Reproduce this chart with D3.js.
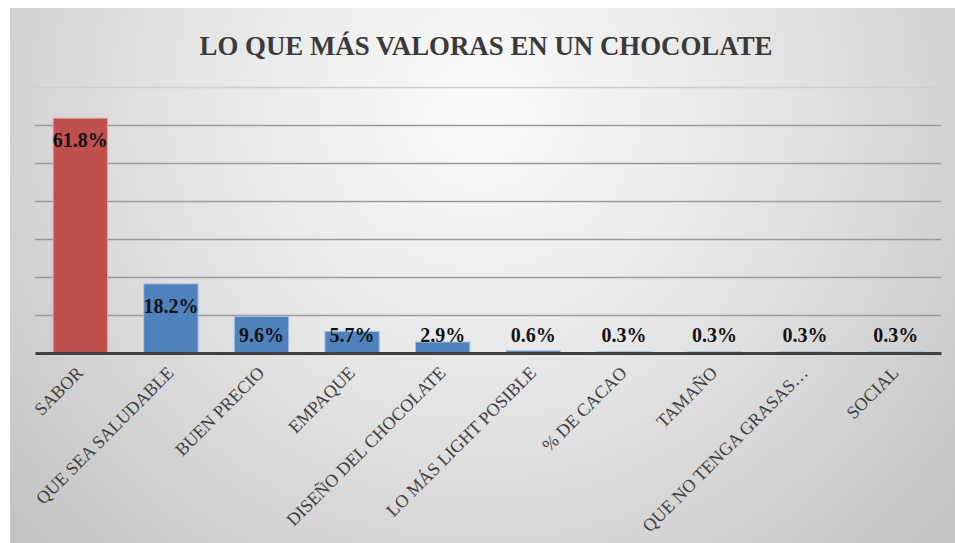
<!DOCTYPE html>
<html><head><meta charset="utf-8">
<script src="https://cdn.jsdelivr.net/npm/d3@7"></script>
<style>html,body{margin:0;padding:0;background:#fff;}svg{display:block;}</style>
</head><body>
<svg id="chart" width="955" height="543"></svg>
<script>
const title = "LO QUE MÁS VALORAS EN UN CHOCOLATE";
const categories = ["SABOR","QUE SEA SALUDABLE","BUEN PRECIO","EMPAQUE","DISEÑO DEL CHOCOLATE","LO MÁS LIGHT POSIBLE","% DE CACAO","TAMAÑO","QUE NO TENGA GRASAS…","SOCIAL"];
const values = [61.8, 18.2, 9.6, 5.7, 2.9, 0.6, 0.3, 0.3, 0.3, 0.3];
const yTicks = [0,10,20,30,40,50,60,70];

const serif = "'Liberation Serif','Times New Roman',Times,serif";
const svg = d3.select("#chart");
const defs = svg.append("defs");
const grad = defs.append("radialGradient").attr("id","bg")
  .attr("gradientUnits","userSpaceOnUse").attr("cx",480).attr("cy",110).attr("r",620);
grad.append("stop").attr("offset","0%").attr("stop-color","#fbfbfb");
grad.append("stop").attr("offset","45%").attr("stop-color","#e6e6e6");
grad.append("stop").attr("offset","100%").attr("stop-color","#c4c4c4");

svg.append("rect").attr("x",10).attr("y",8).attr("width",945).attr("height",535).attr("fill","url(#bg)");

const margin = {left:35, right:941, top:87, bottom:353};
const x = d3.scaleBand().domain(categories).range([margin.left, margin.right]).paddingInner(0.4).paddingOuter(0.2);
const y = d3.scaleLinear().domain([0,70]).range([margin.bottom, margin.top]);

// gridlines
const grid = svg.append("g").call(d3.axisLeft(y).tickValues(yTicks).tickSize(-(margin.right-margin.left)).tickFormat(""))
  .attr("transform",`translate(${margin.left},0)`);
grid.select(".domain").remove();
grid.selectAll(".tick line").attr("stroke",(d)=> d===70?"#cfcfcf":"#9a9a9a").attr("stroke-width",1.5)
  .style("display",d=>d===0?"none":null);

// bars
svg.append("g").selectAll("rect").data(values).join("rect")
  .attr("x",(d,i)=>x(categories[i]))
  .attr("width",x.bandwidth())
  .attr("y",d=>y(d))
  .attr("height",d=>y(0)-y(d))
  .attr("fill",(d,i)=>i===0?"#C0504D":"#4F81BD")
  .attr("stroke",(d,i)=>i===0?"#e6a8a6":"#a9c4e6").attr("stroke-width",1);

// axis line
const xAxis = svg.append("g").attr("transform",`translate(0,${margin.bottom})`)
  .call(d3.axisBottom(x).tickSize(0).tickPadding(0));
xAxis.select(".domain").attr("stroke","#404040").attr("stroke-width",3);
xAxis.selectAll(".tick text")
  .attr("font-family",serif)
  .attr("font-size",18).attr("fill","#404040")
  .attr("text-anchor","end")
  .attr("dy",0).attr("y",0)
  .attr("transform","translate(4,21) rotate(-45)");

// data labels
svg.append("g").selectAll("text").data(values).join("text")
  .attr("x",(d,i)=>x(categories[i])+x.bandwidth()/2)
  .attr("y",d=>Math.min(y(d)+29, y(0)-11))
  .attr("text-anchor","middle")
  .attr("font-family",serif)
  .attr("font-weight","bold").attr("font-size",20).attr("fill","#111")
  .text(d=>d.toFixed(1)+"%");

// title
svg.append("text").attr("x",486).attr("y",55).attr("text-anchor","middle")
  .attr("font-family",serif)
  .attr("font-weight","bold").attr("font-size",28).attr("fill","#3a3a3a")
  .attr("textLength",573).attr("lengthAdjust","spacingAndGlyphs")
  .text(title);
</script>
</body></html>
